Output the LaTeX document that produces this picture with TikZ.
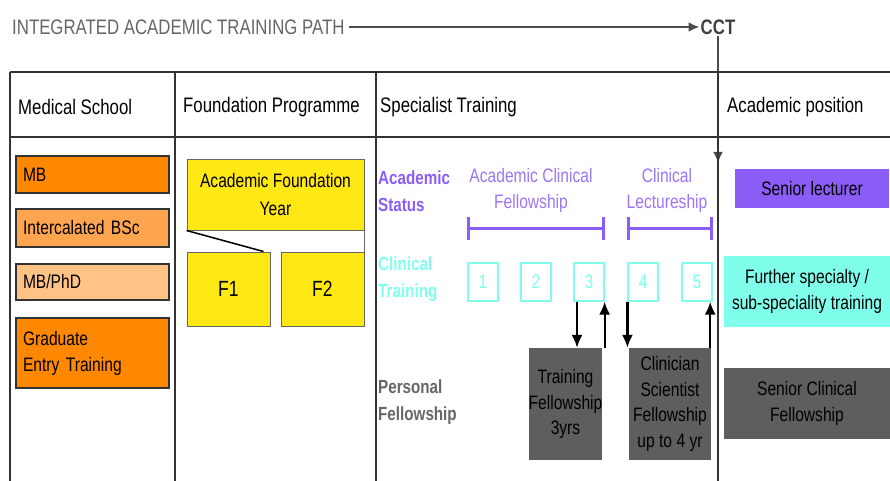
\documentclass[tikz,border=0pt]{standalone}
\usepackage{fontspec}
\setmainfont{Liberation Sans}[FakeStretch=0.8]
\usetikzlibrary{arrows.meta}

\definecolor{msdark}{HTML}{FF8800}
\definecolor{msmid}{HTML}{FFA54F}
\definecolor{mslight}{HTML}{FFC386}
\definecolor{fpyellow}{HTML}{FFE814}
\definecolor{acpurple}{HTML}{8B5CF6}
\definecolor{ctcyan}{HTML}{7FFFEB}
\definecolor{pfgray}{HTML}{5E5E5E}
\definecolor{txtgray}{HTML}{666666}

\tikzset{
  bodytext/.style = {font=\fontsize{19.5}{26}\selectfont},
  headtext/.style = {font=\fontsize{21}{24}\selectfont, inner sep=0pt, anchor=west},
  rowlabel/.style = {font=\bfseries\fontsize{19}{27}\selectfont, inner sep=0pt, anchor=west, align=left},
  msbox/.style = {bodytext, draw=black!80, line width=1.5pt, text width=139pt, inner xsep=7pt, align=left},
  fpbox/.style = {bodytext, fill=fpyellow, draw=black!60, line width=1pt, align=center, inner sep=0pt},
  ctbox/.style = {bodytext, draw=ctcyan, text=ctcyan, line width=1.2pt, minimum width=30pt, minimum height=38pt, inner sep=0pt},
  pfbox/.style = {bodytext, fill=pfgray, text=black, align=center, inner sep=0pt, font=\fontsize{19.5}{25.5}\selectfont},
  apbox/.style = {bodytext, align=center, inner sep=0pt},
  grid/.style = {black!80, line width=1.5pt},
  bracket/.style = {acpurple, line width=2.5pt, {Bar[width=23pt]}-{Bar[width=23pt]}},
  link/.style = {line width=2.2pt, -{Latex[length=13pt,width=11pt]}},
  pathline/.style = {black!70, line width=2.2pt, -{Latex[length=11pt,width=10pt]}}
}

\begin{document}
\begin{tikzpicture}[x=1pt, y=-1pt]
  \useasboundingbox (0,0) rectangle (890,481);

  % training path and CCT
  \node[headtext, text=txtgray] (path) at (12,27) {INTEGRATED ACADEMIC TRAINING PATH};
  \node[font=\bfseries\fontsize{21}{24}\selectfont, text=black!75, inner sep=1pt] (cct) at (718,27) {CCT};
  \coordinate (cctend) at (718,163);
  \draw[pathline] ([xshift=4pt]path.east) -- (cct.west);
  \draw[pathline] (cct.south) -- (cctend);

  % table
  \draw[grid] (10,72) -- (890,72);
  \draw[grid] (10,137) -- (890,137);
  \foreach \x in {10, 175, 376, 718}
  {
  \draw[grid] (\x,72) -- (\x,481);
  }
  \node[headtext] (hms) at (18,107) {Medical School};
  \node[headtext] (hfp) at (183,107) {Foundation Programme};
  \node[headtext] (hst) at (380,107) {Specialist Training};
  \node[headtext] (hap) at (727,107) {Academic position};

  % medical school
  \node[msbox, fill=msdark, minimum height=37pt] (mb) at (92.5,174.5) {MB};
  \node[msbox, fill=msmid, minimum height=38pt] (bsc) at (92.5,228) {Intercalated BSc};
  \node[msbox, fill=mslight, minimum height=36pt] (phd) at (92.5,282) {MB/PhD};
  \node[msbox, fill=msdark, minimum height=70pt] (grad) at (92.5,353) {Graduate\\Entry Training};

  % foundation programme
  \node[fpbox, minimum width=177pt, minimum height=70pt, font=\fontsize{19.5}{28}\selectfont] (afy) at (275.5,195) {Academic Foundation\\Year};
  \node[fpbox, minimum width=83pt, minimum height=74pt, font=\fontsize{22}{26}\selectfont] (f1) at (228.5,289) {F1};
  \node[fpbox, minimum width=83pt, minimum height=74pt, font=\fontsize{22}{26}\selectfont] (f2) at (322.5,289) {F2};
  \draw[black, line width=1.5pt] (afy.south west) -- ([xshift=-7pt]f1.north east);
  \draw[black!60, line width=1pt] (afy.south east) -- (f2.north east);

  % specialist training
  \node[rowlabel, text=acpurple] (acst) at (378,191.5) {Academic\\Status};
  \node[rowlabel, text=ctcyan] (cltr) at (378,279) {Clinical\\Training};
  \node[rowlabel, text=txtgray] (pers) at (378,402) {Personal\\Fellowship};

  \node[bodytext, text=acpurple!85, align=center, inner sep=0pt] (acf) at (531,190) {Academic Clinical\\Fellowship};
  \node[bodytext, text=acpurple!85, align=center, inner sep=0pt] (cl) at (667,190) {Clinical\\Lectureship};

  \foreach \n/\x in {1/483, 2/536, 3/589, 4/643, 5/697}
  {
  \node[ctbox] (b\n) at (\x,282) {\n};
  }
  \draw[bracket] ([yshift=34pt]b1.north west) -- ([yshift=34pt]b3.north east);
  \draw[bracket] ([yshift=34pt]b4.north west) -- ([yshift=34pt]b5.north east);

  \node[pfbox, minimum width=73pt, minimum height=112pt] (tf) at (565.5,404) {Training\\Fellowship\\3yrs};
  \node[pfbox, minimum width=82pt, minimum height=112pt] (cs) at (670,404) {Clinician\\Scientist\\Fellowship\\up to 4 yr};

  \draw[link] ([xshift=-12pt]b3.south) -- ([xshift=-12pt]b3.south |- tf.north);
  \draw[link] (b3.south east |- tf.north) -- (b3.south east);
  \draw[link] (b4.south west) -- (b4.south west |- cs.north);
  \draw[link] ([xshift=-1pt]cs.north east) -- ([xshift=-1pt]cs.north east |- b5.south);

  % academic position
  \node[apbox, fill=acpurple, minimum width=154pt, minimum height=39pt] (sl) at (812,188.5) {Senior lecturer};
  \node[apbox, fill=ctcyan, minimum width=166pt, minimum height=71pt] (fs) at (807,291.5) {Further specialty /\\sub-speciality training};
  \node[apbox, fill=pfgray, text=black, minimum width=166pt, minimum height=71pt] (scf) at (807,403.5) {Senior Clinical\\Fellowship};
\end{tikzpicture}
\end{document}
